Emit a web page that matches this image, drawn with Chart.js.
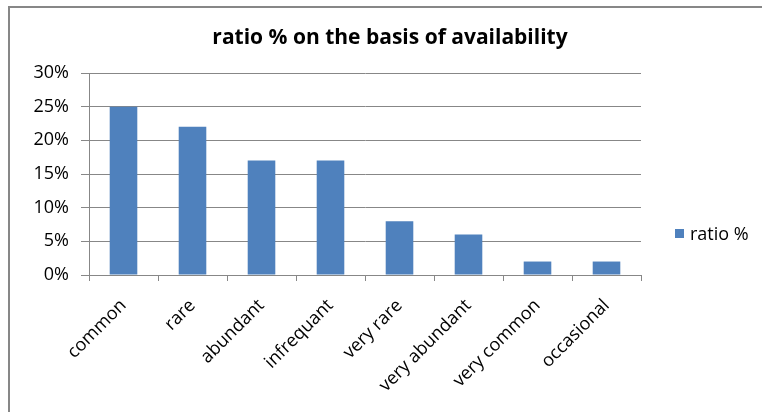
<!DOCTYPE html>
<html>
<head>
<meta charset="utf-8">
<script src="https://cdn.jsdelivr.net/npm/chart.js@4.4.1/dist/chart.umd.min.js"></script>
<style>
  html, body { margin:0; padding:0; background:#fff; }
  #wrap { position:relative; width:762px; height:412px; overflow:hidden; }
  #frame { position:absolute; left:8px; top:6px; width:800px; height:500px; border-left:2px solid #878787; border-top:2px solid #878787; box-sizing:border-box; }
  canvas { position:absolute; left:0; top:0; }
  #title { position:absolute; left:0; width:780px; top:22px; text-align:center; font-family:"Open Sans", sans-serif; font-weight:bold; font-size:21px; line-height:28px; color:#000; }
  #legend { position:absolute; left:675px; top:221px; font-family:"Open Sans", sans-serif; font-size:18px; line-height:24px; color:#000; display:flex; align-items:center; }
  #legend .sw { width:9px; height:9px; background:#4F81BD; margin-right:6px; }
</style>
</head>
<body>
<div id="wrap">
  <div id="frame"></div>
  <canvas id="c" width="762" height="412"></canvas>
  <div id="title"></div>
  <div id="legend"><span class="sw"></span><span id="legtxt"></span></div>
</div>
<script>
const categories = ["common", "rare", "abundant", "infrequant", "very rare", "very abundant", "very common", "occasional"];
const seriesName = "ratio %";
const ratioValues = [25, 22, 17, 17, 8, 6, 2, 2];
const yTicks = [0, 5, 10, 15, 20, 25, 30];
const chartTitle = "ratio % on the basis of availability";

document.getElementById('legtxt').textContent = seriesName;
document.getElementById('title').textContent = chartTitle;

const font = "'Open Sans', sans-serif";
new Chart(document.getElementById('c'), {
  type: 'bar',
  data: {
    labels: categories,
    datasets: [{
      label: seriesName,
      data: ratioValues,
      backgroundColor: '#4F81BD',
      borderWidth: 0,
      barPercentage: 0.4,
      categoryPercentage: 1.0
    }]
  },
  options: {
    responsive: false,
    animation: false,
    devicePixelRatio: 1,
    layout: { padding: { top: 73, left: 30, right: 121, bottom: 0 } },
    plugins: {
      legend: { display: false },
      tooltip: { enabled: false },
      title: { display: false }
    },
    scales: {
      x: {
        grid: { display: true, drawOnChartArea: false, drawTicks: true, tickLength: 6, color: '#878787', offset: true },
        border: { display: true, color: '#878787', width: 1 },
        ticks: { maxRotation: 45, minRotation: 45, autoSkip: false, padding: 14, color: '#000', font: { family: font, size: 18 } },
        afterFit: (s) => { s.height = 137; }
      },
      y: {
        min: 0, max: 30,
        afterBuildTicks: (s) => { s.ticks = yTicks.map(v => ({ value: v })); },
        grid: { color: '#878787', tickLength: 8, lineWidth: 1 },
        border: { display: true, color: '#878787', width: 1 },
        ticks: { padding: 12, color: '#000', font: { family: font, size: 18 }, callback: (v) => v + '%' },
        afterFit: (s) => { s.width = 59; }
      }
    }
  }
});
</script>
</body>
</html>
